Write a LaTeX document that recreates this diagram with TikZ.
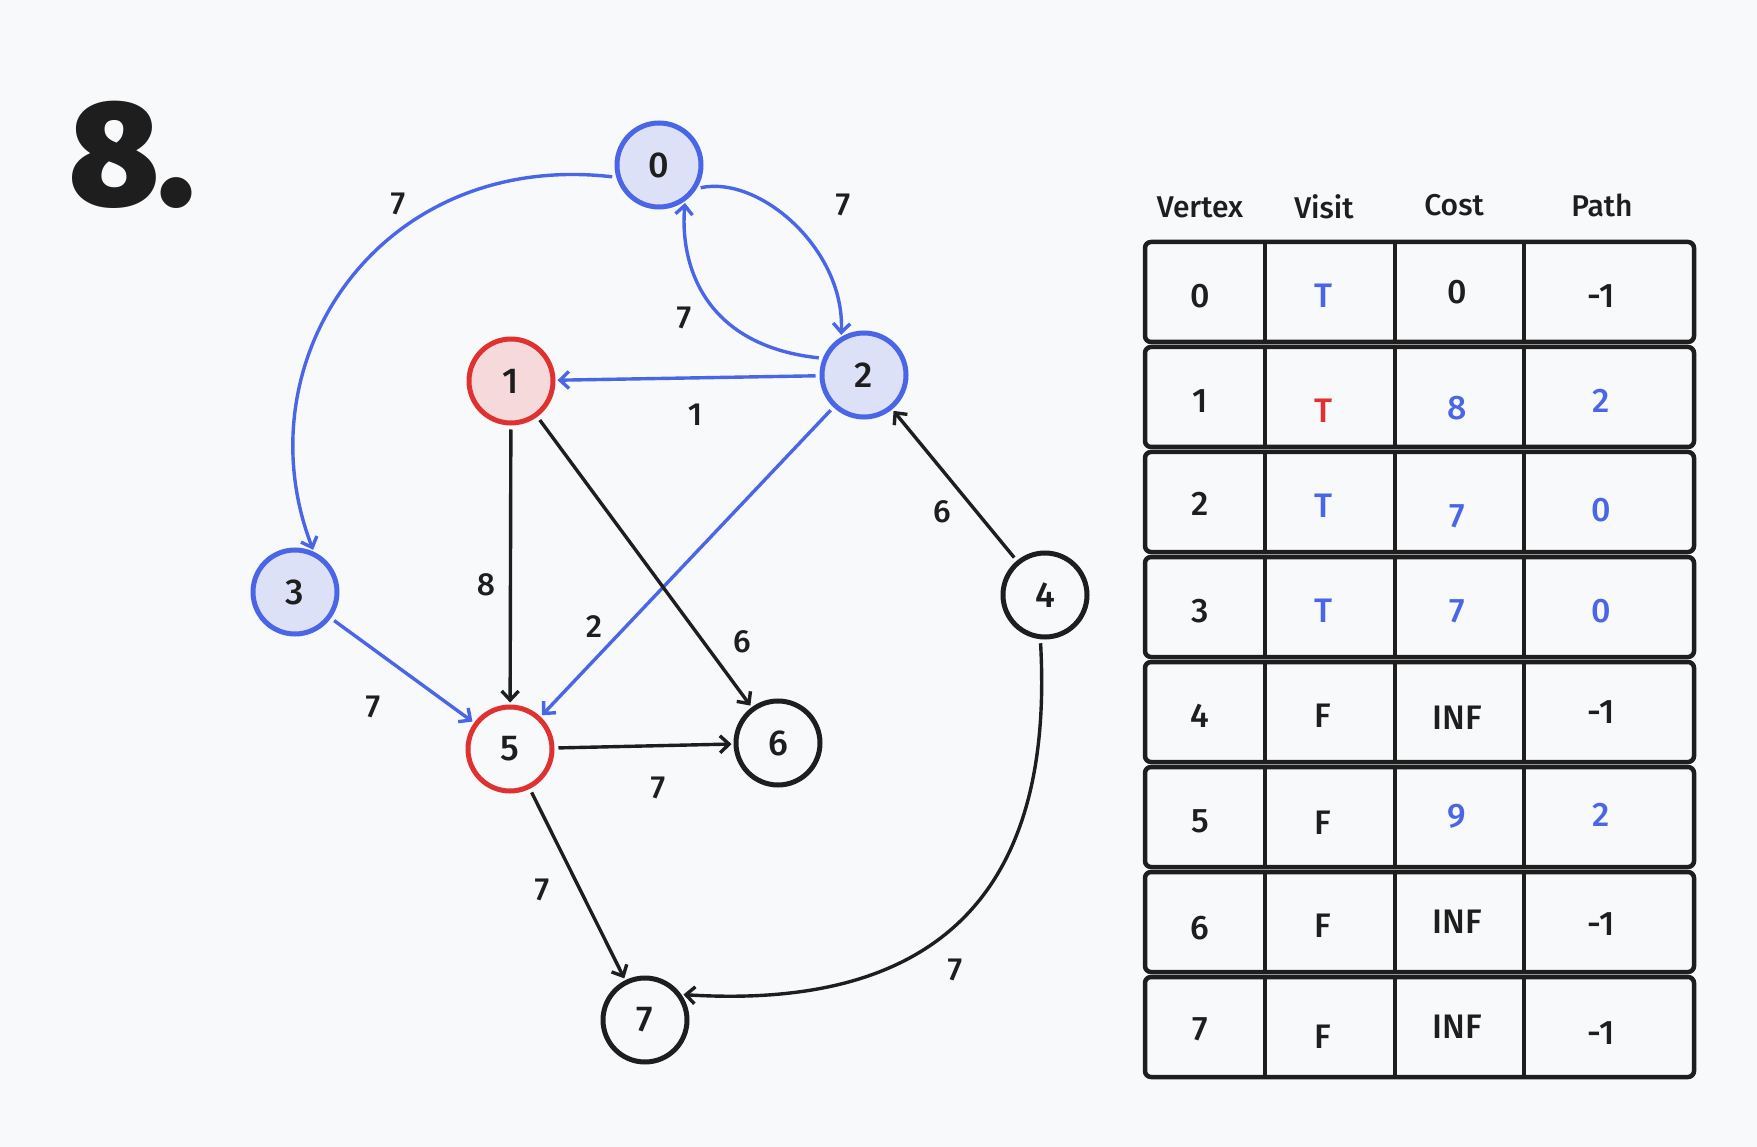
\documentclass[tikz,border=0pt]{standalone}
\usepackage{fontspec}
\setmainfont{Fira Sans}[UprightFont={* Medium}, BoldFont={* Black}]
\usetikzlibrary{arrows.meta}
\definecolor{bg}{HTML}{F8F9FB}
\definecolor{ink}{HTML}{1E1E1E}
\definecolor{myblue}{HTML}{4A66E6}
\definecolor{myred}{HTML}{E03131}
\definecolor{fillblue}{HTML}{DDE1F7}
\definecolor{fillred}{HTML}{F6D9DA}
\tikzset{
  vert/.style={circle, minimum size=84pt, inner sep=0pt, line width=5pt, draw=ink, fill=bg, text=ink, font=\fontsize{36}{40}\selectfont},
  bluev/.style={vert, draw=myblue, fill=fillblue},
  redv/.style={vert, draw=myred, fill=fillred},
  redo/.style={vert, draw=myred, fill=bg},
  edge/.style={line width=3.4pt, draw=ink, -{Straight Barb[length=9pt,width=17pt]}, shorten >=2pt, shorten <=4pt},
  bedge/.style={edge, draw=myblue},
  wlab/.style={text=ink, font=\fontsize{32}{36}\selectfont, inner sep=0pt},
  hdr/.style={text=ink, font=\fontsize{30}{34}\selectfont, inner sep=0pt},
  cell/.style={font=\fontsize{34}{38}\selectfont, inner sep=0pt},
  rowbox/.style={draw=ink, line width=4.5pt, rounded corners=6pt},
  colline/.style={draw=ink, line width=4.5pt}
}
\begin{document}
\begin{tikzpicture}[x=1pt,y=-1pt]
\fill[bg] (0,0) rectangle (1757,1147);
\useasboundingbox (0,0) rectangle (1757,1147);

% title
\node[text=ink, font=\fontsize{150}{150}\selectfont\bfseries, inner sep=0pt] (title) at (132,155) {8.};

% vertices
\node[bluev] (n0) at (659,165) {0};
\node[redv]  (n1) at (511,381) {1};
\node[bluev] (n2) at (864,375) {2};
\node[bluev] (n3) at (295,592) {3};
\node[vert]  (n4) at (1045,595) {4};
\node[redo]  (n5) at (510,749) {5};
\node[vert]  (n6) at (778,743) {6};
\node[vert]  (n7) at (645,1020) {7};

% blue edges
\draw[bedge] (n0.196) .. controls (380,150) and (240,360) .. (n3.65);
\draw[bedge] (n0.328) .. controls (760,175) and (845,250) .. (n2.121);
\draw[bedge] (n2.158) .. controls (700,345) and (680,260) .. (n0.306);
\draw[bedge] (n2) -- (n1);
\draw[bedge] (n2) -- (n5);
\draw[bedge] (n3) -- (n5);

% black edges
\draw[edge] (n1) -- (n5);
\draw[edge] (n1) -- (n6);
\draw[edge] (n4) -- (n2);
\draw[edge] (n5) -- (n6);
\draw[edge] (n5) -- (n7);
\draw[edge] (n4.264) .. controls (1055,900) and (930,1010) .. (n7.35);

% weights
\node[wlab] (w03) at (398,204) {7};
\node[wlab] (w02) at (843,205) {7};
\node[wlab] (w20) at (684,318) {7};
\node[wlab] (w21) at (695,415) {1};
\node[wlab] (w25) at (594,627) {2};
\node[wlab] (w35) at (373,707) {7};
\node[wlab] (w15) at (486,585) {8};
\node[wlab] (w16) at (742,642) {6};
\node[wlab] (w42) at (942,512) {6};
\node[wlab] (w56) at (658,788) {7};
\node[wlab] (w57) at (542,890) {7};
\node[wlab] (w47) at (955,970) {7};

% table headers
\node[hdr] (hv) at (1200,207) {Vertex};
\node[hdr] (hs) at (1324,207) {Visit};
\node[hdr] (hc) at (1454,205) {Cost};
\node[hdr] (hp) at (1602,205) {Path};

% table rows (vertical offsets mimic the hand placement)
\foreach \ri/\rv/\rvis/\rviscol/\rcost/\rcostcol/\rpth/\rpthcol/\oa/\ob/\oc/\od in {
  0/0/T/myblue/0/ink/-1/ink/2/2/-2/2,
  1/1/T/myred/8/myblue/2/myblue/2/12/9/2,
  2/2/T/myblue/7/myblue/0/myblue/0/2/12/6,
  3/3/T/myblue/7/myblue/0/myblue/2/2/2/2,
  4/4/F/ink/INF/ink/-1/ink/2/2/4/-2,
  5/5/F/ink/9/myblue/2/myblue/2/4/-3/-4,
  6/6/F/ink/INF/ink/-1/ink/4/2/-2/0,
  7/7/F/ink/INF/ink/-1/ink/0/8/-2/4}{
  \pgfmathsetmacro{\rowt}{242+\ri*105}
  \pgfmathsetmacro{\rowb}{\rowt+100}
  \pgfmathsetmacro{\rowm}{\rowt+52}
  \pgfmathsetmacro{\ya}{\rowm+\oa}
  \pgfmathsetmacro{\yb}{\rowm+\ob}
  \pgfmathsetmacro{\yc}{\rowm+\oc}
  \pgfmathsetmacro{\yd}{\rowm+\od}
  \draw[rowbox] (1145,\rowt) rectangle (1694,\rowb);
  \draw[colline] (1265,\rowt) -- (1265,\rowb);
  \draw[colline] (1395,\rowt) -- (1395,\rowb);
  \draw[colline] (1524,\rowt) -- (1524,\rowb);
  \node[cell, text=ink] (v\ri) at (1200,\ya) {\rv};
  \node[cell, text=\rviscol] (s\ri) at (1323,\yb) {\rvis};
  \node[cell, text=\rcostcol] (c\ri) at (1457,\yc) {\rcost};
  \node[cell, text=\rpthcol] (p\ri) at (1601,\yd) {\rpth};
}
\end{tikzpicture}
\end{document}
